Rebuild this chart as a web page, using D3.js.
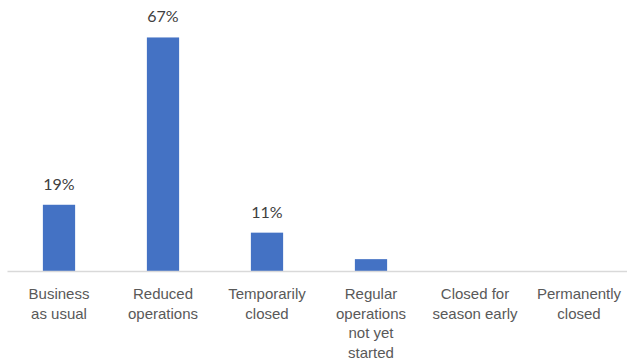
<!DOCTYPE html>
<html>
<head>
<meta charset="utf-8">
<script src="https://cdn.jsdelivr.net/npm/d3@7"></script>
<style>
  html, body { margin: 0; padding: 0; background: #fff; }
  svg { display: block; font-family: "Lato", "Open Sans", sans-serif; }
</style>
</head>
<body>
<svg id="chart" width="627" height="362"></svg>
<script>
// Operating status of businesses (share of respondents, %)
const categories = [
  ["Business", "as usual"],
  ["Reduced", "operations"],
  ["Temporarily", "closed"],
  ["Regular", "operations", "not yet", "started"],
  ["Closed for", "season early"],
  ["Permanently", "closed"]
];
const values = [19, 67, 11, 3.4, 0, 0];
const valueLabels = ["19%", "67%", "11%", "", "", ""];

const svg = d3.select("#chart");
const baseline = 271;

const x = d3.scaleBand()
  .domain(d3.range(categories.length))
  .range([7, 631])
  .paddingInner(0.69)
  .paddingOuter(0.345);

const y = d3.scaleLinear()
  .domain([0, 70])
  .range([baseline, 27]);

// bars
svg.append("g")
  .selectAll("rect")
  .data(values)
  .join("rect")
  .attr("x", (d, i) => x(i))
  .attr("y", d => y(d))
  .attr("width", x.bandwidth())
  .attr("height", d => y(0) - y(d))
  .attr("fill", "#4472C4");

// value labels
svg.append("g")
  .selectAll("text")
  .data(values)
  .join("text")
  .attr("x", (d, i) => x(i) + x.bandwidth() / 2)
  .attr("y", d => y(d) - 15)
  .attr("text-anchor", "middle")
  .attr("font-size", 16)
  .attr("fill", "#404040")
  .text((d, i) => valueLabels[i]);

// category axis
const axis = svg.append("g")
  .attr("transform", `translate(0,${baseline})`)
  .call(d3.axisBottom(x).tickSize(0).tickFormat(""));
axis.select(".domain").attr("stroke", "#d9d9d9").attr("stroke-width", 1.5);

axis.selectAll(".tick").each(function(i) {
  const t = d3.select(this).append("text")
    .attr("text-anchor", "middle")
    .attr("font-size", 15)
    .attr("fill", "#595959")
    .attr("y", 28);
  categories[i].forEach((line, k) => {
    t.append("tspan")
      .attr("x", 0)
      .attr("dy", k === 0 ? 0 : 19.5)
      .text(line);
  });
});
</script>
</body>
</html>
